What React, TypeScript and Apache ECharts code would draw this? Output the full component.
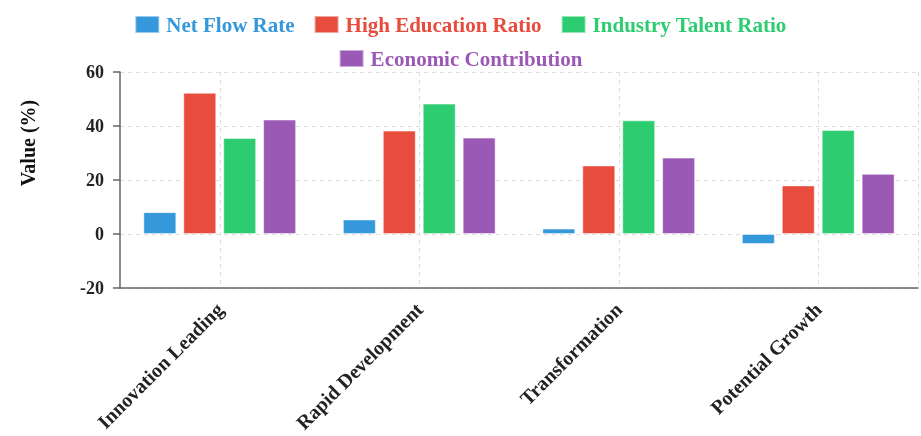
import React, { useEffect, useRef } from "react";
import * as echarts from "echarts";

const categories = ["Innovation Leading", "Rapid Development", "Transformation", "Potential Growth"];
const netFlowRate = [8.1, 5.4, 2.0, -3.7];
const highEducationRatio = [52.3, 38.3, 25.4, 18.0];
const industryTalentRatio = [35.6, 48.3, 42.1, 38.5];
const economicContribution = [42.4, 35.7, 28.3, 22.3];
const seriesNames = ["Net Flow Rate", "High Education Ratio", "Industry Talent Ratio", "Economic Contribution"];
const colors = ["#3498db", "#e74c3c", "#2ecc71", "#9b59b6"];
const gridHelper = ["", "", "", "", "", "", "", ""];

const FONT = "'Liberation Serif', 'Times New Roman', serif";

export default function App() {
  const ref = useRef<HTMLDivElement>(null);
  useEffect(() => {
    if (!ref.current) return;
    const chart = echarts.init(ref.current, null, { renderer: "svg" });
    const values = [netFlowRate, highEducationRatio, industryTalentRatio, economicContribution];
    const legendItem = (i: number) => ({
      name: seriesNames[i],
      textStyle: { color: colors[i] },
    });
    const legendCommon = {
      icon: "rect",
      itemWidth: 24,
      itemHeight: 17,
      itemGap: 19,
      textStyle: { fontFamily: FONT, fontWeight: "bold", fontSize: 21, padding: [0, 0, 0, 2] },
      padding: 0,
    };
    chart.setOption({
      animation: false,
      textStyle: { fontFamily: FONT },
      legend: [
        { ...legendCommon, data: [0, 1, 2].map(legendItem), top: 14, left: "center" },
        { ...legendCommon, data: [3].map(legendItem), top: 48, left: "center" },
      ],
      grid: { left: 120, right: 3, top: 72, bottom: 148 },
      xAxis: [
        {
          type: "category",
          data: categories,
          axisLine: { onZero: false, lineStyle: { color: "#666", width: 1.5 } },
          axisTick: { alignWithLabel: true, length: 6, lineStyle: { color: "#666", width: 1.5 } },
          axisLabel: {
            rotate: 45,
            fontFamily: FONT,
            fontWeight: "bold",
            fontSize: 20,
            color: "#222",
            margin: 18,
            padding: [20, 0, 0, 0],
          },
          splitLine: { show: false },
        },
        {
          type: "category",
          data: gridHelper,
          position: "bottom",
          axisLine: { show: false },
          axisTick: { show: false },
          axisLabel: { show: false },
          splitLine: {
            show: true,
            interval: (i: number) => i % 2 === 1 || i === 8,
            lineStyle: { color: "#ddd", type: [4, 4], width: 1 },
          },
        },
      ],
      yAxis: {
        type: "value",
        min: -20,
        max: 60,
        interval: 20,
        axisLine: { show: true, lineStyle: { color: "#666", width: 1.5 } },
        axisTick: { show: true, length: 7, lineStyle: { color: "#666", width: 1.5 } },
        axisLabel: { fontFamily: FONT, fontWeight: "bold", fontSize: 18, color: "#222", margin: 16 },
        splitLine: { show: true, lineStyle: { color: "#ddd", type: [4, 4], width: 1 } },
      },
      graphic: [
        {
          type: "text",
          x: 28,
          y: 143,
          rotation: Math.PI / 2,
          style: {
            text: "Value (%)",
            fontFamily: FONT,
            fontWeight: "bold",
            fontSize: 20,
            fill: "#111",
            align: "center",
            verticalAlign: "middle",
          },
        },
      ],
      series: seriesNames.map((name, i) => ({
        name,
        type: "bar",
        xAxisIndex: 0,
        data: values[i],
        barWidth: 33,
        barGap: "21%",
        itemStyle: { color: colors[i], borderColor: "rgba(255,255,255,0.5)", borderWidth: 1 },
      })),
    });
    return () => chart.dispose();
  }, []);
  return (
    <div
      ref={ref}
      style={{ position: "fixed", left: 0, top: 0, width: 921, height: 436 }}
    />
  );
}
